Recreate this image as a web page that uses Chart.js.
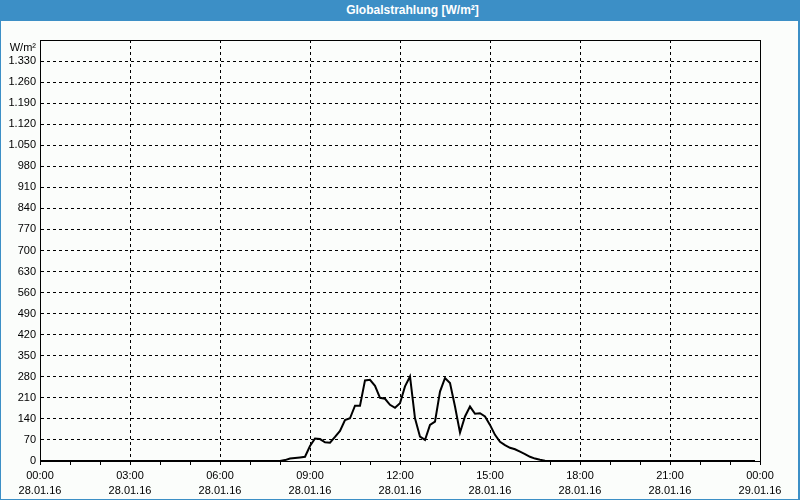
<!DOCTYPE html>
<html>
<head>
<meta charset="utf-8">
<script src="https://cdn.jsdelivr.net/npm/chart.js@4.4.0/dist/chart.umd.min.js"></script>
<style>
  body { margin: 0; background: #fbfdfb; }
  #wrap { position: relative; width: 800px; height: 500px; }
  #titel {
    position: absolute; left: 0; top: 0; width: 800px; height: 21px;
    background: #3c8fc6; color: #fff;
    font: bold 12px "Liberation Sans", sans-serif;
    line-height: 21px; text-align: center; box-sizing: border-box; padding-left: 25px;
  }
  #rahmen {
    position: absolute; left: 0; top: 0; width: 800px; height: 500px; box-sizing: border-box;
    border-left: 1px solid #3c8fc6; border-right: 2px solid #3c8fc6; border-bottom: 1px solid #3c8fc6;
    pointer-events: none;
  }
</style>
</head>
<body>
<div id="wrap">
  <canvas id="grafik" width="800" height="500"></canvas>
  <div id="titel">Globalstrahlung [W/m²]</div>
  <div id="rahmen"></div>
</div>
<script>
  // Messzeiten (10 min Raster) und Werte in W/m²
  const zeiten = [
    '00:00', '07:50',
    '08:00', '08:10', '08:20', '08:30', '08:40', '08:50',
    '09:00', '09:10', '09:20', '09:30', '09:40', '09:50',
    '10:00', '10:10', '10:20', '10:30', '10:40', '10:50',
    '11:00', '11:10', '11:20', '11:30', '11:40', '11:50',
    '12:00', '12:10', '12:20', '12:30', '12:40', '12:50',
    '13:00', '13:10', '13:20', '13:30', '13:40', '13:50',
    '14:00', '14:10', '14:20', '14:30', '14:40', '14:50',
    '15:00', '15:10', '15:20', '15:30', '15:40', '15:50',
    '16:00', '16:10', '16:20', '16:30', '16:40', '16:50',
    '17:00', '23:50'
  ];
  const werte = [
    0, 0,
    0, 3, 8, 10, 12, 14,
    50, 75, 73, 62, 61, 80,
    100, 136, 142, 184, 184, 268,
    270, 250, 210, 207, 187, 177,
    192, 248, 281, 142, 81, 70,
    120, 131, 231, 276, 259, 181,
    94, 148, 181, 157, 159, 148,
    120, 87, 64, 53, 44, 39,
    31, 23, 14, 8, 4, 1,
    0, 0
  ];

  // Achsenbeschriftung
  const xUhrzeit = ['00:00', '03:00', '06:00', '09:00', '12:00', '15:00', '18:00', '21:00', '00:00'];
  const xDatum = ['28.01.16', '28.01.16', '28.01.16', '28.01.16', '28.01.16', '28.01.16', '28.01.16', '28.01.16', '29.01.16'];
  const einheit = 'W/m²';

  function inMinuten(s) {
    const teile = s.split(':');
    return parseInt(teile[0]) * 60 + parseInt(teile[1]);
  }

  function tausender(v) {
    if (v >= 1000) return Math.floor(v / 1000) + '.' + String(v % 1000).padStart(3, '0');
    return String(v);
  }

  const punkte = zeiten.map((z, i) => ({ x: inMinuten(z), y: werte[i] }));

  const schrift = { family: '"Liberation Sans", sans-serif', size: 11, lineHeight: '15px' };

  const hintergrund = {
    id: 'hintergrund',
    beforeDraw(chart) {
      const ctx = chart.ctx;
      ctx.save();
      ctx.fillStyle = '#fbfdfb';
      ctx.fillRect(0, 0, chart.width, chart.height);
      ctx.restore();
    },
    afterDraw(chart) {
      const a = chart.chartArea;
      const ctx = chart.ctx;
      ctx.save();
      ctx.strokeStyle = '#000';
      ctx.lineWidth = 1;
      ctx.strokeRect(Math.round(a.left) + 0.5, Math.round(a.top) + 0.5,
        Math.round(a.right) - Math.round(a.left), Math.round(a.bottom) - Math.round(a.top));
      ctx.restore();
    }
  };

  const config = {
    type: 'line',
    data: {
      datasets: [{
        label: 'Globalstrahlung',
        data: punkte,
        borderColor: '#000',
        borderWidth: 2,
        pointRadius: 0,
        tension: 0,
        fill: false
      }]
    },
    options: {
      responsive: false,
      animation: false,
      layout: { padding: { top: 40, right: 40, left: 0, bottom: 0 } },
      plugins: { legend: { display: false }, tooltip: { enabled: false }, title: { display: false } },
      scales: {
        x: {
          type: 'linear',
          min: 0,
          max: 1440,
          afterFit(s) { s.height = 39; },
          grid: {
            color: (c) => (c.tick && c.tick.value % 180 === 0) ? '#000' : 'rgba(0,0,0,0)',
            tickColor: '#000',
            tickLength: 4,
            drawTicks: true
          },
          border: { display: true, color: '#000', width: 1, dash: [3, 3] },
          ticks: {
            stepSize: 60,
            autoSkip: false,
            maxRotation: 0,
            padding: 3,
            color: '#000',
            font: schrift,
            callback: (v) => {
              if (v % 180 !== 0) return '';
              const i = v / 180;
              return [xUhrzeit[i], xDatum[i]];
            }
          }
        },
        y: {
          min: 0,
          max: 1400,
          afterFit(s) { s.width = 40; },
          grid: { color: '#000', drawTicks: false },
          border: { display: true, color: '#000', width: 1, dash: [3, 3] },
          ticks: {
            stepSize: 70,
            autoSkip: false,
            padding: 4,
            color: '#000',
            font: schrift,
            callback: (v) => v === 1400 ? ['', einheit] : tausender(v)
          }
        }
      }
    },
    plugins: [hintergrund]
  };

  const myChart = new Chart(document.getElementById('grafik'), config);
</script>
</body>
</html>
